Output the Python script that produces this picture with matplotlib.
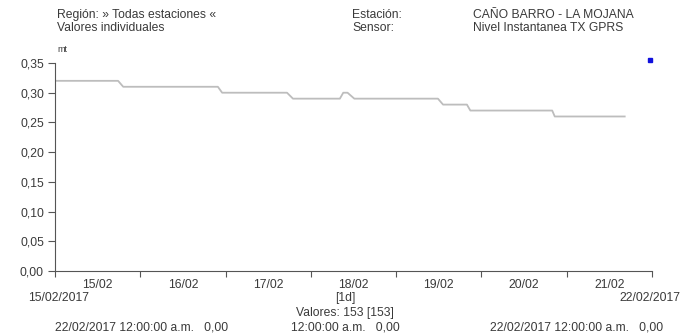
import matplotlib
matplotlib.use("Agg")
import matplotlib.pyplot as plt
import matplotlib.dates as mdates
import pandas as pd

plt.rcParams['font.family'] = ['Liberation Sans', 'DejaVu Sans']

# Data
times = ["2017-02-15 00:00", "2017-02-15 17:45", "2017-02-15 19:12",
         "2017-02-16 21:50", "2017-02-16 23:02", "2017-02-17 17:17",
         "2017-02-17 18:58", "2017-02-18 08:10", "2017-02-18 09:07",
         "2017-02-18 10:19", "2017-02-18 12:14", "2017-02-19 11:46",
         "2017-02-19 13:12", "2017-02-19 19:55", "2017-02-19 20:53",
         "2017-02-20 19:55", "2017-02-20 20:38", "2017-02-21 16:19"]
values = [0.32, 0.32, 0.31, 0.31, 0.30, 0.30, 0.29, 0.29, 0.30, 0.30,
          0.29, 0.29, 0.28, 0.28, 0.27, 0.27, 0.26, 0.26]
marker_time = ["2017-02-21 23:30"]
marker_value = [0.355]
day_labels = ["15/02", "16/02", "17/02", "18/02", "19/02", "20/02", "21/02"]
y_ticks = [0.00, 0.05, 0.10, 0.15, 0.20, 0.25, 0.30, 0.35]

t = pd.to_datetime(times)
tm = pd.to_datetime(marker_time)
start = pd.Timestamp("2017-02-15")
end = pd.Timestamp("2017-02-22")

fig = plt.figure(figsize=(6.9, 3.33), dpi=100)
ax = fig.add_axes([55/690, 1-271/333, (652-55)/690, (271-63)/333])
txt = '#3a3a3a'
fs = 8.7

ax.plot(t, values, color='#bdbdbd', lw=1.3)
ax.plot(tm, marker_value, marker='s', ms=2.2, color='#1010dd', ls='none', clip_on=False)

ax.set_xlim(start, end)
ax.set_ylim(0, 0.35)
for s in ['top', 'right']:
    ax.spines[s].set_visible(False)
for s in ['left', 'bottom']:
    ax.spines[s].set_color('#555555')
    ax.spines[s].set_linewidth(0.8)

ax.set_yticks(y_ticks)
ax.set_yticklabels([f"{v:.2f}".replace('.', ',') for v in y_ticks], fontsize=fs, color=txt)
ax.tick_params(axis='y', length=5, width=0.8, color='#555555', pad=3)

major = pd.date_range(start, end, freq='D')
ax.set_xticks(mdates.date2num(major))
ax.set_xticklabels([''] * len(major))
ax.tick_params(axis='x', which='major', length=4, width=0.8, color='#555555')
minor = pd.date_range(start + pd.Timedelta(hours=12), periods=7, freq='D')
ax.set_xticks(mdates.date2num(minor), minor=True)
ax.set_xticklabels(day_labels, minor=True, fontsize=fs, color=txt)
ax.tick_params(axis='x', which='minor', length=0, pad=6)

def px(x, y, s, ha='left', va='center'):
    fig.text(x/690, 1-y/333, s, ha=ha, va=va, fontsize=fs, color=txt)

px(57, 15, "Región: » Todas estaciones «")
px(57, 28, "Valores individuales")
px(352, 15, "Estación:")
px(352, 28, "Sensor:")
px(473, 15, "CAÑO BARRO - LA MOJANA")
px(473, 28, "Nivel Instantanea TX GPRS")
fig.text(57/690, 1-50/333, "mt", ha='left', va='center', fontsize=6.5, color=txt)
px(28, 298, "15/02/2017")
px(680, 298, "22/02/2017", ha='right')
px(345, 298, "[1d]", ha='center')
px(345, 313, "Valores: 153 [153]", ha='center')
px(55, 327, "22/02/2017 12:00:00 a.m.   0,00")
px(345, 327, "12:00:00 a.m.   0,00", ha='center')
px(490, 327, "22/02/2017 12:00:00 a.m.   0,00")

fig.savefig("out.png", dpi=100)
